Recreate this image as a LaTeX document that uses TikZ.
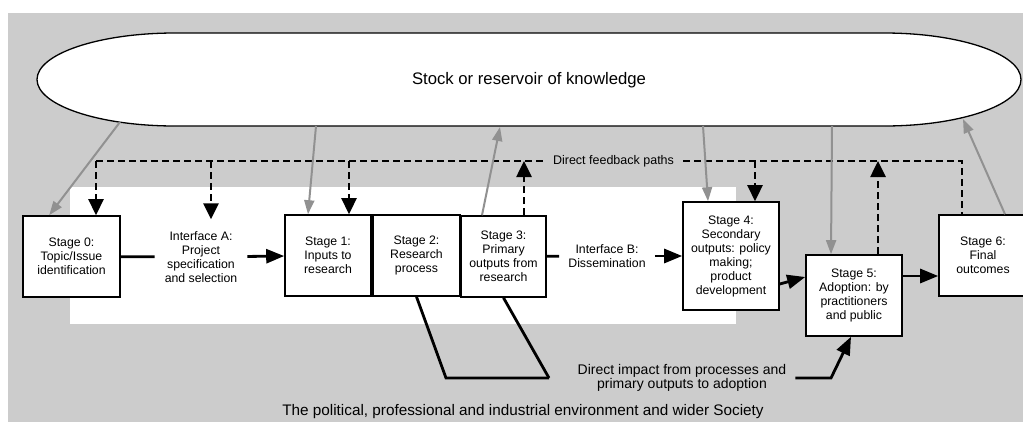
\documentclass[tikz,border=0pt]{standalone}
\usepackage{fontspec}
\setmainfont{Liberation Sans}
\usetikzlibrary{arrows.meta}
\definecolor{envgray}{RGB}{204,204,204}
\definecolor{linkgray}{RGB}{145,145,145}

\begin{document}
\begin{tikzpicture}[x=1pt, y=-1pt,
    stage/.style = {draw, line width=1.6pt, fill=white, align=center, minimum height=81pt,
                    inner sep=2pt, font=\fontsize{12.3}{14}\selectfont},
    iface/.style = {align=center, font=\fontsize{12.3}{14}\selectfont},
    plain/.style = {line width=2.8pt},
    flow/.style  = {plain, -{Triangle[length=18pt,width=14pt]}},
    fback/.style = {line width=2.6pt, dash pattern=on 7pt off 4pt},
    fbtip/.style = {-{Triangle[length=16pt,width=15pt]}},
    know/.style  = {draw=linkgray, line width=2pt, -{Triangle[length=14pt,width=10pt]}}]
    \useasboundingbox (0,0) rectangle (1023,421);
    % environment and research setting
    \fill [envgray] (8,13) rectangle (1030,430);
    \fill [white] (70,187) rectangle (736,324);
    % reservoir
    \draw [line width=1.3pt, fill=white] (175,33) -- (884,33)
        .. controls (959.7,33) and (1021,53.8) .. (1021,79.5)
        .. controls (1021,105.2) and (959.7,126) .. (884,126) -- (175,126)
        .. controls (98.8,126) and (37,105.2) .. (37,79.5)
        .. controls (37,53.8) and (98.8,33) .. cycle;
    \node [font=\fontsize{16.7}{20}\selectfont] (stock) at (529,80.5) {Stock or reservoir of knowledge};
    % stages
    \node [stage, minimum width=97pt] (s0) at (71.5,256.5) {Stage 0:\\Topic/Issue\\identification};
    \node [iface, inner xsep=10pt, inner ysep=12pt] (ia) at (201,257) {Interface A:\\Project\\specification\\and selection};
    \node [stage, minimum width=86pt] (s1) at (328,255.5) {Stage 1:\\Inputs to\\research};
    \node [stage, minimum width=87pt] (s2) at (416.5,255.5) {Stage 2:\\Research\\process};
    \node [stage, minimum width=85pt] (s3) at (503.5,256.5) {Stage 3:\\Primary\\outputs from\\research};
    \node [iface, inner xsep=9pt] (ib) at (607,256) {Interface B:\\Dissemination};
    \node [stage, minimum width=96pt, minimum height=108pt] (s4) at (731,256) {Stage 4:\\Secondary\\outputs: policy\\making;\\product\\development};
    \node [stage, minimum width=96pt] (s5) at (854,295.5) {Stage 5:\\Adoption: by\\practitioners\\and public};
    \node [stage, minimum width=88pt] (s6) at (983,255.5) {Stage 6:\\Final\\outcomes};
    % labels
    \node [inner xsep=9pt, font=\fontsize{12.5}{14}\selectfont] (fbl) at (613.5,161) {Direct feedback paths};
    \node [align=center, inner xsep=9pt, font=\fontsize{14}{14.3}\selectfont] (di) at (682,378) {Direct impact from processes and\\primary outputs to adoption};
    \node [anchor=base, font=\fontsize{15.3}{18}\selectfont] (env) at (523,415.5) {The political, professional and industrial environment and wider Society};
    % main flow
    \draw [plain] (s0) -- (ia);
    \draw [flow] (ia) -- (s1);
    \draw [plain] (s3) -- (ib);
    \draw [flow] (ib) -- (s4);
    \draw [flow] ([yshift=-28pt]s4.east) -- ([yshift=18.5pt]s5.west);
    \draw [flow] ([yshift=19.5pt]s5.east) -- ([yshift=-20.5pt]s6.west);
    % direct feedback paths
    \coordinate (fb) at (0,161);
    \path ([xshift=24.5pt]s0.north) coordinate (f0)
          ([xshift=10pt]ia.north) coordinate (fa)
          ([xshift=21pt]s1.north) coordinate (f1)
          ([xshift=20.5pt]s3.north) coordinate (f3)
          ([xshift=24pt]s4.north) coordinate (f4)
          ([xshift=24pt]s5.north) coordinate (f5)
          ([xshift=-21pt]s6.north) coordinate (f6);
    \draw [fback] (f0 |- fb) -- (fbl.west);
    \draw [fback] (fbl.east) -- (f6 |- fb) -- (f6);
    \foreach \f in {f0, fa, f1, f4}
        \draw [fback, fbtip] (\f |- fb) -- (\f);
    \foreach \f in {f3, f5}
        \draw [fback, fbtip] (\f) -- (\f |- fb);
    % to and from the reservoir
    \coordinate (k0) at (120,122);
    \coordinate (k1) at (316,126);
    \coordinate (k2) at (500,127);
    \coordinate (k3) at (703,126);
    \coordinate (k4) at (832,126);
    \coordinate (k5) at (963,119);
    \draw [know] (k0) -- ([xshift=27pt]s0.north west);
    \draw [know] (k1) -- ([xshift=-20pt]s1.north);
    \draw [know] ([xshift=-21.5pt]s3.north) -- (k2);
    \draw [know] (k3) -- ([xshift=-23pt]s4.north);
    \draw [know] (k4) -- ([xshift=-23pt]s5.north);
    \draw [know] ([xshift=22pt]s6.north) -- (k5);
    % direct impact
    \coordinate (dk) at (446,378);
    \coordinate (dj) at (549,378);
    \coordinate (dm) at (831,378);
    \draw [plain] (s2.south) -- (dk) -- (dj);
    \draw [plain] (s3.south) -- (dj);
    \draw [flow] (di.east) -- (dm) -- ([xshift=-3pt]s5.south);
\end{tikzpicture}
\end{document}
